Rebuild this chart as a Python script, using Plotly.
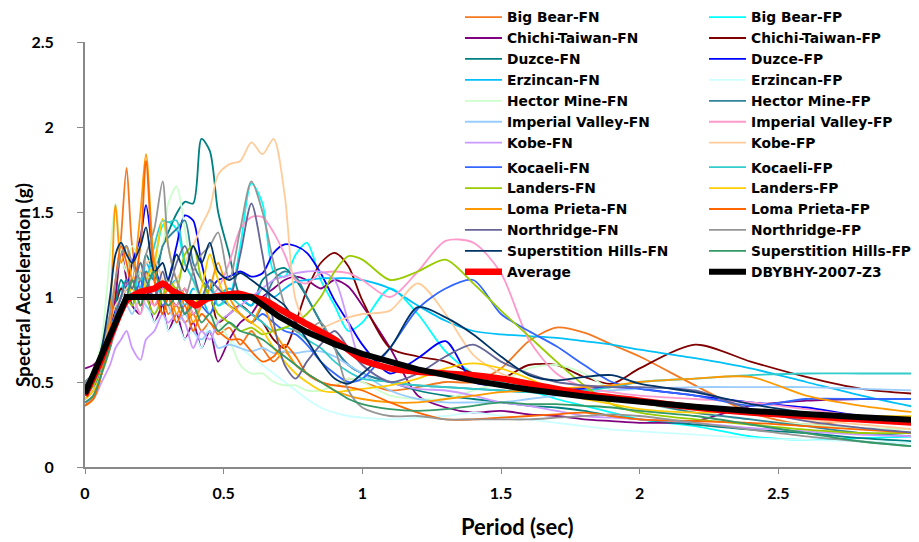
import plotly.graph_objects as go

# Period grid (sec)
periods = [0.00, 0.03, 0.06, 0.09, 0.11, 0.13,
           0.15, 0.17, 0.20, 0.22, 0.25, 0.28, 0.30,
           0.33, 0.36, 0.39, 0.42, 0.45, 0.48, 0.52,
           0.56, 0.60, 0.64, 0.68, 0.72, 0.76, 0.80,
           0.85, 0.90, 0.95, 1.00, 1.10, 1.20, 1.30,
           1.40, 1.50, 1.60, 1.70, 1.80, 1.90, 2.00,
           2.20, 2.40, 2.60, 2.80, 3.00]

big_bear_fn = [0.36, 0.42, 0.55, 0.75, 1.0, 1.35,
               1.76, 1.3, 1.05, 1.15, 0.95, 1.0, 0.9,
               0.95, 0.85, 0.9, 0.8, 0.85, 0.78, 0.82,
               0.72, 0.8, 0.7, 0.62, 0.68, 0.6, 0.55,
               0.5, 0.48, 0.52, 0.5, 0.45, 0.47, 0.5,
               0.5, 0.58, 0.74, 0.82, 0.79, 0.72, 0.65,
               0.48, 0.32, 0.25, 0.28, 0.28]
big_bear_fp = [0.45, 0.5, 0.65, 0.8, 0.95, 1.05,
               1.1, 1.0, 1.15, 1.05, 1.2, 1.42, 1.44,
               1.4, 1.2, 1.1, 1.0, 1.05, 0.95, 1.0,
               1.3, 1.67, 1.55, 1.15, 1.12, 1.25, 1.32,
               1.1, 0.95, 0.8, 0.85, 1.05, 0.9, 0.68,
               0.55, 0.5, 0.45, 0.4, 0.36, 0.32, 0.28,
               0.24, 0.18, 0.16, 0.17, 0.18]
chichi_fn = [0.58, 0.6, 0.65, 0.8, 1.0, 1.27,
             1.1, 0.95, 0.9, 1.05, 0.85, 0.95, 0.8,
             0.9, 0.75, 0.85, 0.7, 0.8, 0.62, 0.75,
             0.85, 0.9, 1.0, 1.05, 1.1, 1.12, 1.1,
             1.05, 1.1, 1.06, 0.95, 0.7, 0.42, 0.35,
             0.32, 0.33, 0.31, 0.3, 0.28, 0.27, 0.26,
             0.27, 0.36, 0.39, 0.4, 0.4]
chichi_fp = [0.5, 0.55, 0.7, 0.85, 0.95, 1.05,
             1.0, 1.1, 0.95, 1.0, 1.05, 0.9, 1.0,
             0.95, 1.05, 0.9, 0.95, 1.0, 0.85, 0.9,
             0.95, 0.9, 0.85, 0.75, 0.7, 0.85, 1.04,
             1.2, 1.26, 1.18, 0.98, 0.7, 0.65, 0.62,
             0.55, 0.52, 0.6, 0.6, 0.53, 0.49, 0.58,
             0.72, 0.62, 0.53, 0.46, 0.43]
duzce_fn = [0.42, 0.48, 0.6, 0.8, 0.95, 1.1,
            1.05, 1.2, 1.1, 1.25, 1.15, 1.3, 1.38,
            1.49, 1.56, 1.55, 1.93, 1.86, 1.5, 1.25,
            1.0, 0.95, 1.1, 1.15, 1.17, 1.1, 1.0,
            0.85, 0.7, 0.6, 0.55, 0.5, 0.45, 0.42,
            0.4, 0.38, 0.36, 0.35, 0.33, 0.3, 0.28,
            0.25, 0.22, 0.2, 0.17, 0.15]
duzce_fp = [0.45, 0.5, 0.6, 0.75, 0.95, 1.0,
            1.05, 1.2, 1.35, 1.54, 1.2, 1.05, 1.1,
            1.3, 1.48, 1.45, 1.2, 1.05, 1.1, 1.12,
            1.15, 1.12, 1.14, 1.26, 1.31, 1.3, 1.26,
            1.14, 0.98, 0.85, 0.72, 0.55, 0.64, 0.74,
            0.5, 0.48, 0.47, 0.46, 0.46, 0.47, 0.46,
            0.42, 0.38, 0.35, 0.3, 0.28]
erzincan_fn = [0.5, 0.55, 0.65, 0.8, 0.9, 1.0,
               1.1, 1.0, 1.05, 1.2, 1.1, 1.0, 1.05,
               1.1, 0.95, 1.05, 1.0, 0.9, 1.0, 1.05,
               1.0, 0.95, 1.05, 1.0, 1.05, 1.09, 1.1,
               1.11, 1.11, 1.11, 1.1, 1.05, 0.95, 0.86,
               0.8, 0.78, 0.77, 0.76, 0.74, 0.72, 0.69,
               0.64, 0.58, 0.5, 0.42, 0.35]
erzincan_fp = [0.4, 0.45, 0.55, 0.7, 0.85, 0.9,
               0.95, 1.0, 0.9, 0.95, 0.85, 0.9, 0.8,
               0.85, 0.75, 0.8, 0.7, 0.85, 0.8, 0.75,
               0.7, 0.65, 0.6, 0.55, 0.5, 0.45, 0.4,
               0.35, 0.32, 0.3, 0.29, 0.28, 0.29, 0.3,
               0.32, 0.3, 0.28, 0.26, 0.24, 0.22, 0.21,
               0.19, 0.17, 0.16, 0.15, 0.14]
hector_fn = [0.45, 0.55, 0.75, 1.25, 1.55, 1.25,
             1.15, 1.3, 1.2, 1.1, 1.2, 1.3, 1.55,
             1.65, 1.4, 1.1, 0.95, 0.9, 0.85, 0.75,
             0.6, 0.55, 0.55, 0.5, 0.48, 0.48, 0.45,
             0.45, 0.48, 0.52, 0.5, 0.42, 0.4, 0.4,
             0.45, 0.5, 0.58, 0.6, 0.55, 0.45, 0.38,
             0.32, 0.28, 0.25, 0.23, 0.22]
hector_fp = [0.4, 0.45, 0.6, 0.75, 0.9, 1.0,
             1.05, 1.1, 1.0, 1.15, 1.1, 1.3, 1.35,
             1.4, 1.45, 1.2, 1.1, 1.05, 1.0, 0.95,
             0.9, 0.85, 0.95, 1.1, 1.15, 1.12, 1.0,
             0.85, 0.7, 0.6, 0.55, 0.5, 0.48, 0.47,
             0.46, 0.45, 0.44, 0.43, 0.42, 0.4, 0.38,
             0.32, 0.28, 0.24, 0.2, 0.18]
imperial_fn = [0.45, 0.5, 0.6, 0.7, 0.8, 0.9,
               0.95, 0.9, 1.0, 0.95, 0.9, 1.0, 0.95,
               0.85, 0.9, 0.8, 0.75, 0.8, 0.7, 0.72,
               0.7, 0.68, 0.7, 0.67, 0.68, 0.67, 0.68,
               0.68, 0.65, 0.6, 0.55, 0.45, 0.4, 0.38,
               0.38, 0.38, 0.4, 0.42, 0.44, 0.45, 0.46,
               0.47, 0.47, 0.47, 0.46, 0.45]
imperial_fp = [0.4, 0.45, 0.55, 0.7, 0.8, 0.9,
               0.95, 1.0, 0.9, 1.0, 0.95, 1.05, 1.0,
               0.95, 1.05, 0.9, 0.95, 1.0, 1.05, 1.2,
               1.4, 1.47, 1.47, 1.38, 1.25, 1.1, 1.08,
               1.14, 1.15, 1.14, 1.1, 1.0, 1.15, 1.33,
               1.32, 1.14, 0.75, 0.55, 0.47, 0.44, 0.42,
               0.4, 0.38, 0.34, 0.3, 0.28]
kobe_fn = [0.38, 0.4, 0.5, 0.6, 0.7, 0.75,
           0.8, 0.7, 0.63, 0.75, 0.8, 0.9, 0.85,
           0.9, 0.85, 0.7, 0.8, 0.75, 0.85, 0.9,
           0.95, 1.0, 1.05, 1.1, 1.12, 1.14, 1.15,
           1.15, 1.1, 0.85, 0.6, 0.5, 0.46, 0.45,
           0.42, 0.38, 0.36, 0.33, 0.3, 0.29, 0.28,
           0.26, 0.23, 0.21, 0.19, 0.18]
kobe_fp = [0.45, 0.5, 0.7, 0.85, 0.95, 1.0,
           1.05, 1.1, 1.15, 1.2, 1.22, 1.1, 1.05,
           1.1, 1.2, 1.3, 1.42, 1.52, 1.72, 1.78,
           1.8, 1.91, 1.84, 1.93, 1.6, 0.98, 0.85,
           0.82, 0.85, 0.88, 0.9, 0.92, 1.08, 0.9,
           0.66, 0.55, 0.5, 0.46, 0.42, 0.4, 0.38,
           0.35, 0.32, 0.28, 0.25, 0.22]
kocaeli_fn = [0.45, 0.5, 0.6, 0.7, 0.85, 0.95,
              1.0, 0.95, 1.1, 1.0, 1.05, 0.95, 1.0,
              1.05, 0.9, 1.0, 0.95, 0.9, 1.0, 0.95,
              0.9, 0.85, 0.9, 0.85, 0.8, 0.78, 0.72,
              0.62, 0.55, 0.5, 0.52, 0.7, 0.93, 1.05,
              1.1, 0.9, 0.8, 0.71, 0.6, 0.5, 0.46,
              0.42, 0.36, 0.4, 0.4, 0.4]
kocaeli_fp = [0.42, 0.48, 0.6, 0.75, 0.9, 1.0,
              1.1, 1.0, 1.2, 1.1, 1.3, 1.45, 1.44,
              1.45, 1.2, 1.1, 1.0, 1.1, 0.95, 1.0,
              0.95, 0.9, 0.85, 0.8, 0.82, 0.8, 0.75,
              0.7, 0.62, 0.56, 0.52, 0.5, 0.48, 0.47,
              0.46, 0.45, 0.44, 0.44, 0.45, 0.47, 0.5,
              0.52, 0.54, 0.55, 0.55, 0.55]
landers_fn = [0.42, 0.48, 0.6, 0.75, 0.85, 0.95,
              1.0, 0.95, 1.05, 1.0, 0.9, 1.0, 1.1,
              1.05, 1.25, 1.3, 1.1, 1.0, 0.9, 0.85,
              0.8, 0.82, 0.78, 0.8, 0.82, 0.85, 0.9,
              1.0, 1.15, 1.24, 1.22, 1.1, 1.15, 1.22,
              1.08, 0.92, 0.77, 0.62, 0.48, 0.37, 0.32,
              0.28, 0.25, 0.22, 0.2, 0.2]
landers_fp = [0.4, 0.45, 0.55, 0.7, 0.85, 0.95,
              1.0, 1.05, 0.95, 1.1, 1.2, 1.46, 1.3,
              1.1, 1.0, 0.95, 1.05, 1.25, 1.1, 0.95,
              0.9, 0.85, 0.8, 0.7, 0.62, 0.55, 0.5,
              0.45, 0.44, 0.45, 0.46, 0.48, 0.52, 0.58,
              0.61, 0.58, 0.52, 0.45, 0.4, 0.37, 0.34,
              0.32, 0.33, 0.32, 0.3, 0.3]
loma_fn = [0.36, 0.4, 0.55, 0.9, 1.54, 1.2,
           1.3, 1.1, 1.5, 1.84, 1.2, 1.0, 1.05,
           0.9, 1.0, 0.85, 0.95, 1.05, 1.2, 1.0,
           0.9, 0.85, 0.95, 0.8, 0.7, 0.6, 0.55,
           0.5, 0.45, 0.42, 0.4, 0.38, 0.38, 0.4,
           0.42, 0.44, 0.45, 0.46, 0.47, 0.48, 0.5,
           0.52, 0.53, 0.42, 0.36, 0.32]
loma_fp = [0.36, 0.4, 0.55, 0.8, 1.1, 1.3,
           1.2, 1.05, 1.3, 1.8, 1.1, 0.9, 1.0,
           0.85, 0.95, 0.8, 0.9, 0.85, 0.8, 0.75,
           0.75, 0.68, 0.62, 0.65, 0.72, 0.65, 0.55,
           0.5, 0.48, 0.47, 0.45, 0.38, 0.32, 0.28,
           0.28, 0.29, 0.3, 0.31, 0.32, 0.3, 0.28,
           0.27, 0.26, 0.24, 0.22, 0.2]
north_fn = [0.45, 0.5, 0.6, 0.75, 0.9, 1.0,
            1.1, 1.05, 1.2, 1.1, 1.0, 1.15, 1.05,
            1.2, 1.3, 1.15, 1.0, 1.1, 1.05, 1.0,
            1.25, 1.55, 1.25, 0.85, 0.6, 0.52, 0.62,
            0.72, 0.8, 0.7, 0.6, 0.5, 0.55, 0.65,
            0.72, 0.62, 0.55, 0.5, 0.48, 0.47, 0.47,
            0.45, 0.34, 0.27, 0.23, 0.2]
north_fp = [0.5, 0.55, 0.7, 0.9, 1.1, 1.25,
            1.3, 1.2, 1.1, 1.25, 1.4, 1.68, 1.3,
            1.1, 1.0, 1.15, 1.25, 1.3, 1.38, 1.1,
            1.4, 1.68, 1.5, 1.2, 0.95, 0.8, 0.8,
            0.85, 0.7, 0.45, 0.35, 0.3, 0.3, 0.28,
            0.28, 0.28, 0.28, 0.29, 0.3, 0.31, 0.3,
            0.26, 0.22, 0.18, 0.15, 0.12]
superstition_fn = [0.48, 0.55, 0.7, 1.0, 1.25, 1.32,
                   1.25, 1.2, 1.3, 1.41, 1.15, 1.2, 1.1,
                   1.25, 1.15, 1.3, 1.2, 1.32, 1.15, 1.1,
                   1.14, 1.1, 1.05, 1.0, 0.95, 0.85, 0.75,
                   0.62, 0.52, 0.49, 0.55, 0.7, 0.94, 0.88,
                   0.78, 0.65, 0.54, 0.51, 0.53, 0.54, 0.49,
                   0.44, 0.37, 0.32, 0.28, 0.25]
superstition_fp = [0.38, 0.42, 0.55, 0.7, 0.85, 0.95,
                   1.0, 1.1, 0.95, 1.05, 1.15, 1.0, 0.95,
                   1.0, 0.9, 0.95, 0.85, 0.9, 0.8, 0.85,
                   0.8, 0.78, 0.75, 0.7, 0.65, 0.6, 0.55,
                   0.5, 0.45, 0.4, 0.37, 0.34, 0.33, 0.34,
                   0.36, 0.38, 0.37, 0.37, 0.36, 0.35, 0.33,
                   0.3, 0.25, 0.2, 0.15, 0.12]

avg_periods = [0.0, 0.05, 0.1, 0.15, 0.2, 0.25, 0.28, 0.32, 0.36, 0.4, 0.44,
               0.5, 0.55, 0.6, 0.65, 0.7, 0.8, 0.9, 1.0, 1.1, 1.2, 1.3, 1.4,
               1.5, 1.6, 1.8, 2.0, 2.2, 2.4, 2.6, 2.8, 3.0]
average = [0.42, 0.6, 0.8, 0.98, 1.03, 1.05, 1.08, 1.03, 1.0, 0.95, 0.99,
           1.01, 1.02, 1.0, 0.98, 0.93, 0.84, 0.75, 0.63, 0.58, 0.56, 0.55, 0.54,
           0.52, 0.49, 0.43, 0.39, 0.35, 0.32, 0.3, 0.28, 0.26]

design_periods = [0.0, 0.15, 0.6, 0.7, 0.8, 0.9, 1.0, 1.2, 1.4, 1.6, 1.8,
                  2.0, 2.2, 2.4, 2.6, 2.8, 3.0]
design = [0.43, 1.0, 1.0, 0.884, 0.794, 0.723, 0.665, 0.574, 0.508, 0.456,
          0.415, 0.382, 0.354, 0.330, 0.309, 0.292, 0.276]

x_ticks = [0, 0.5, 1, 1.5, 2, 2.5, 3]
x_tick_labels = ["0", "0.5", "1", "1.5", "2", "2.5", "3"]
y_ticks = [0, 0.5, 1, 1.5, 2, 2.5]
y_tick_labels = ["0", "0.5", "1", "1.5", "2", "2.5"]

series = [
    ("Big Bear-FN", big_bear_fn, "#F47920"),
    ("Big Bear-FP", big_bear_fp, "#00FFFF"),
    ("Chichi-Taiwan-FN", chichi_fn, "#800080"),
    ("Chichi-Taiwan-FP", chichi_fp, "#800000"),
    ("Duzce-FN", duzce_fn, "#008080"),
    ("Duzce-FP", duzce_fp, "#0000FF"),
    ("Erzincan-FN", erzincan_fn, "#00C0F8"),
    ("Erzincan-FP", erzincan_fp, "#CCFFFF"),
    ("Hector Mine-FN", hector_fn, "#CCFFCC"),
    ("Hector Mine-FP", hector_fp, "#31859C"),
    ("Imperial Valley-FN", imperial_fn, "#99CCFF"),
    ("Imperial Valley-FP", imperial_fp, "#FF99CC"),
    ("Kobe-FN", kobe_fn, "#CC99FF"),
    ("Kobe-FP", kobe_fp, "#FFCC99"),
    ("Kocaeli-FN", kocaeli_fn, "#3366FF"),
    ("Kocaeli-FP", kocaeli_fp, "#33CCCC"),
    ("Landers-FN", landers_fn, "#99CC00"),
    ("Landers-FP", landers_fp, "#FFCC00"),
    ("Loma Prieta-FN", loma_fn, "#FF9900"),
    ("Loma Prieta-FP", loma_fp, "#FF6600"),
    ("Northridge-FN", north_fn, "#666699"),
    ("Northridge-FP", north_fp, "#969696"),
    ("Superstition Hills-FN", superstition_fn, "#003366"),
    ("Superstition Hills-FP", superstition_fp, "#339966"),
]

fig = go.Figure()
fn_count = 0
fp_count = 0
for name, vals, color in series:
    if name.endswith("FN"):
        leg = "legend" if fn_count < 7 else "legend3"
        fn_count += 1
    else:
        leg = "legend2" if fp_count < 7 else "legend4"
        fp_count += 1
    fig.add_trace(go.Scatter(
        x=periods, y=vals, name=name, mode="lines",
        line=dict(color=color, width=1.8, shape="spline", smoothing=0.8),
        legend=leg,
    ))

fig.add_trace(go.Scatter(
    x=avg_periods, y=average, name="Average", mode="lines",
    line=dict(color="#FF0000", width=6.5, shape="spline", smoothing=0.6),
    legend="legend3",
))
fig.add_trace(go.Scatter(
    x=design_periods, y=design, name="DBYBHY-2007-Z3", mode="lines",
    line=dict(color="#000000", width=6),
    legend="legend4",
))

legend_font = dict(family="DejaVu Sans", size=13.8, color="black", weight="bold")
common_leg = dict(yref="paper", xanchor="left", yanchor="top",
                  bgcolor="rgba(0,0,0,0)", borderwidth=0, font=legend_font,
                  itemwidth=37, tracegroupgap=0, itemclick=False)

axis_line = "#898989"
tick_font = dict(family="Lato", size=16, color="black", weight="bold")

# The page body adds an 8px offset, so the figure is 8px smaller each way.
fig.update_layout(
    width=911, height=534,
    margin=dict(l=77, r=2, t=34, b=75, autoexpand=False),
    plot_bgcolor="white", paper_bgcolor="white",
    showlegend=True,
    legend=dict(x=0.4507, y=1.0951, **common_leg),
    legend2=dict(x=0.7440, y=1.0951, **common_leg),
    legend3=dict(x=0.4507, y=0.7420, **common_leg),
    legend4=dict(x=0.7440, y=0.7420, **common_leg),
    xaxis=dict(range=[0, 3], tickvals=x_ticks, ticktext=x_tick_labels,
               showline=True, linecolor=axis_line, linewidth=2,
               ticks="outside", ticklen=5, tickcolor=axis_line, tickwidth=1,
               showgrid=False, zeroline=False, tickfont=tick_font,
               ticklabelstandoff=6, ticklabeloverflow="allow"),
    yaxis=dict(range=[0, 2.5], tickvals=y_ticks, ticktext=y_tick_labels,
               showline=True, linecolor=axis_line, linewidth=2,
               ticks="outside", ticklen=6, tickcolor=axis_line, tickwidth=1,
               showgrid=False, zeroline=False, tickfont=tick_font,
               ticklabelstandoff=20),
    annotations=[
        dict(text="Period (sec)", xref="paper", yref="paper",
             x=0.519, y=-0.141, xanchor="center", yanchor="middle",
             showarrow=False,
             font=dict(family="Lato", size=22, color="black", weight="bold")),
        dict(text="Spectral Acceleration (g)", xref="paper", yref="paper",
             x=-0.0757, y=0.428, xanchor="center", yanchor="middle",
             showarrow=False, textangle=-90,
             font=dict(family="Lato", size=19, color="black", weight="bold")),
    ],
)

fig.write_html("out.html")
